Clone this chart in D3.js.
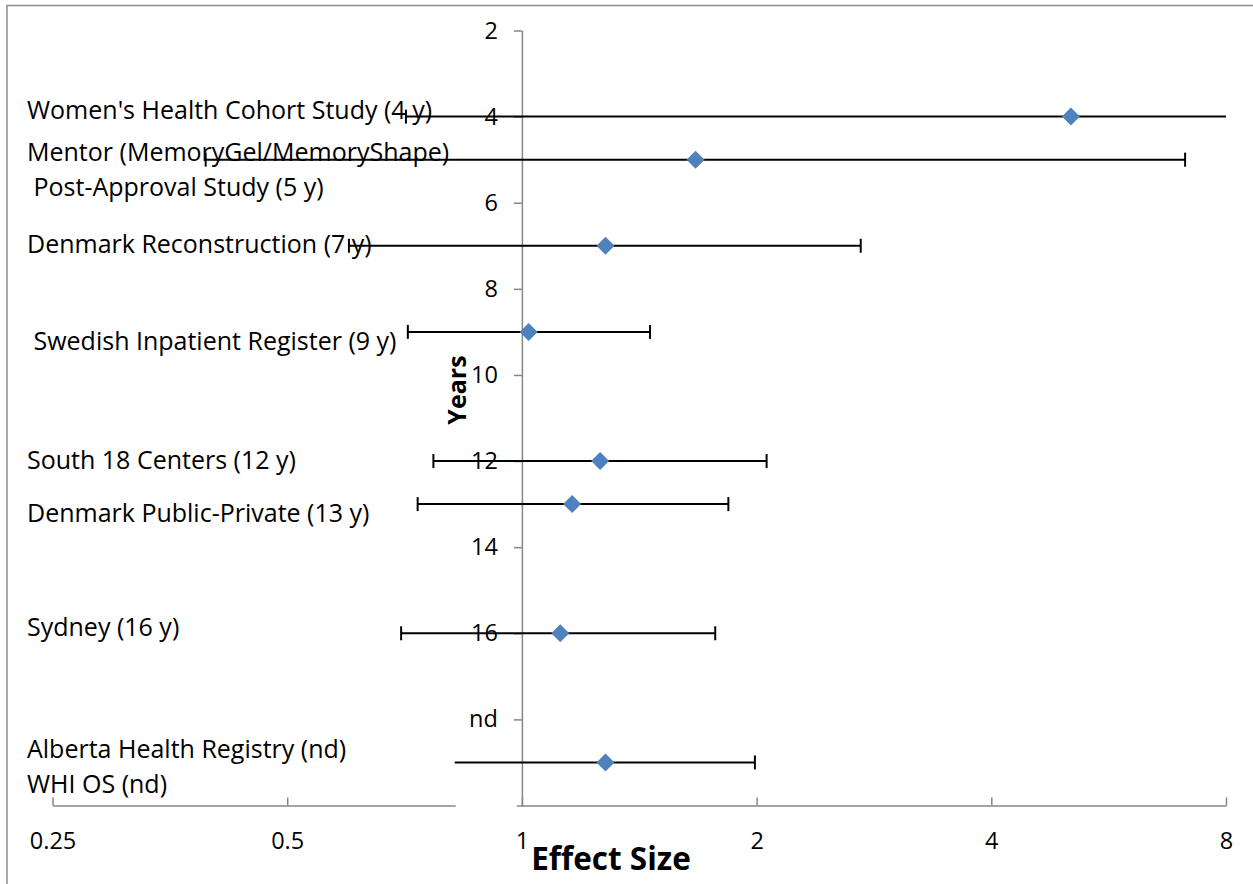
<!DOCTYPE html>
<html><head><meta charset="utf-8">
<script src="https://cdn.jsdelivr.net/npm/d3@7"></script>
<style>
body{margin:0;background:#fff;}
svg text{font-family:"Open Sans", "Noto Sans", sans-serif; fill:#000;}
</style>
</head><body>
<svg id="chart" width="1253" height="884"></svg>
<script>
// ---------- data ----------
const studyLabels = [
  ["Women's Health Cohort Study (4 y)"],
  ["Mentor (MemoryGel/MemoryShape)", " Post-Approval Study (5 y)"],
  ["Denmark Reconstruction (7 y)"],
  [" Swedish Inpatient Register (9 y)"],
  ["South 18 Centers (12 y)"],
  ["Denmark Public-Private (13 y)"],
  ["Sydney (16 y)"],
  ["Alberta Health Registry (nd)", "WHI OS (nd)"]
];
const years  = [4, 5, 7, 9, 12, 13, 16, 19];
const effect = [5.06, 1.67, 1.28, 1.02, 1.26, 1.16, 1.12, 1.28];
const lower  = [0.71, 0.393, 0.60, 0.714, 0.77, 0.735, 0.70, 0.82];
const upper  = [9.5, 7.09, 2.72, 1.46, 2.06, 1.84, 1.77, 1.99];
const xTickValues = [0.25, 0.5, 1, 2, 4, 8];
const xTickLabels = ["0.25", "0.5", "1", "2", "4", "8"];
const yTickValues = [2, 4, 6, 8, 10, 12, 14, 16, 18];
const yTickLabels = ["2", "4", "6", "8", "10", "12", "14", "16", "nd"];

// ---------- layout (pixels) ----------
const labelDy = [[-6], [-7, 28], [-2], [9], [-1], [9], [-6], [-13, 22]];
const labelX = 27;
const capless = [false, false, false, false, false, false, false, true];

const svg = d3.select("#chart");
const axisColor = "#868686";

// outer frame
svg.append("rect").attr("x", 7).attr("y", 5.5).attr("width", 1300).attr("height", 1000)
  .attr("fill", "none").attr("stroke", "#8c8c8c").attr("stroke-width", 1.5);

const x = d3.scaleLog().base(2).domain([0.25, 8]).range([52.5, 1226]);
const y = d3.scaleLinear().domain([2, 20]).range([30.5, 805.5]);

// x axis
const xAxis = svg.append("g").attr("transform", `translate(0,${y(20)})`)
  .call(d3.axisBottom(x).tickValues(xTickValues)
    .tickFormat((d, i) => xTickLabels[i]).tickSizeInner(-8).tickSizeOuter(0).tickPadding(27));
xAxis.attr("font-family", null).attr("font-size", 23.5);
xAxis.select(".domain").attr("stroke", axisColor).attr("stroke-width", 1.5);
xAxis.selectAll(".tick line").attr("stroke", axisColor).attr("stroke-width", 1.5);

// y axis (crosses at x = 1)
const yAxis = svg.append("g").attr("transform", `translate(${x(1)},0)`)
  .call(d3.axisLeft(y).tickValues(yTickValues)
    .tickFormat((d, i) => yTickLabels[i]).tickSizeInner(8).tickSizeOuter(0).tickPadding(16));
yAxis.attr("font-family", null).attr("font-size", 23.5);
yAxis.select(".domain").attr("stroke", axisColor).attr("stroke-width", 1.5);
yAxis.selectAll(".tick line").attr("stroke", axisColor).attr("stroke-width", 1.5);

// gap in the x axis left of the y axis
svg.append("rect").attr("x", x(lower[7]) + 1).attr("y", y(20) - 3)
  .attr("width", x(1) - 5 - x(lower[7]) - 1).attr("height", 6).attr("fill", "#fff");

// axis titles
svg.append("text").attr("x", 611).attr("y", 870).attr("text-anchor", "middle")
  .attr("font-size", 31.5).attr("font-weight", "bold").text("Effect Size");
svg.append("text").attr("transform", `translate(466,390) rotate(-90)`).attr("text-anchor", "middle")
  .attr("font-size", 25).attr("font-weight", "bold").text("Years");

// error bars
const lo = d => Math.max(d, x.domain()[0]);
const hi = d => Math.min(d, x.domain()[1]);
const bars = svg.append("g");
years.forEach((yr, i) => {
  const yy = y(yr);
  bars.append("line").attr("x1", x(lo(lower[i]))).attr("x2", x(hi(upper[i])))
    .attr("y1", yy).attr("y2", yy).attr("stroke", "#000").attr("stroke-width", 2);
  if (lower[i] >= x.domain()[0] && !capless[i])
    bars.append("line").attr("x1", x(lower[i])).attr("x2", x(lower[i]))
      .attr("y1", yy - 7).attr("y2", yy + 7).attr("stroke", "#000").attr("stroke-width", 2);
  if (upper[i] <= x.domain()[1])
    bars.append("line").attr("x1", x(upper[i])).attr("x2", x(upper[i]))
      .attr("y1", yy - 7).attr("y2", yy + 7).attr("stroke", "#000").attr("stroke-width", 2);
});

// diamonds
svg.append("g").selectAll("path").data(years).join("path")
  .attr("transform", (d, i) => `translate(${x(effect[i])},${y(d)})`)
  .attr("d", "M0,-9L9,0L0,9L-9,0Z")
  .attr("fill", "#4F81BD");

// study labels
const lab = svg.append("g");
studyLabels.forEach((lines, i) => {
  lines.forEach((t, j) => {
    lab.append("text").attr("x", labelX).attr("y", y(years[i]) + labelDy[i][j])
      .attr("dy", "0.35em").attr("font-size", 25)
      .style("white-space", "pre").text(t);
  });
});
</script>
</body></html>
